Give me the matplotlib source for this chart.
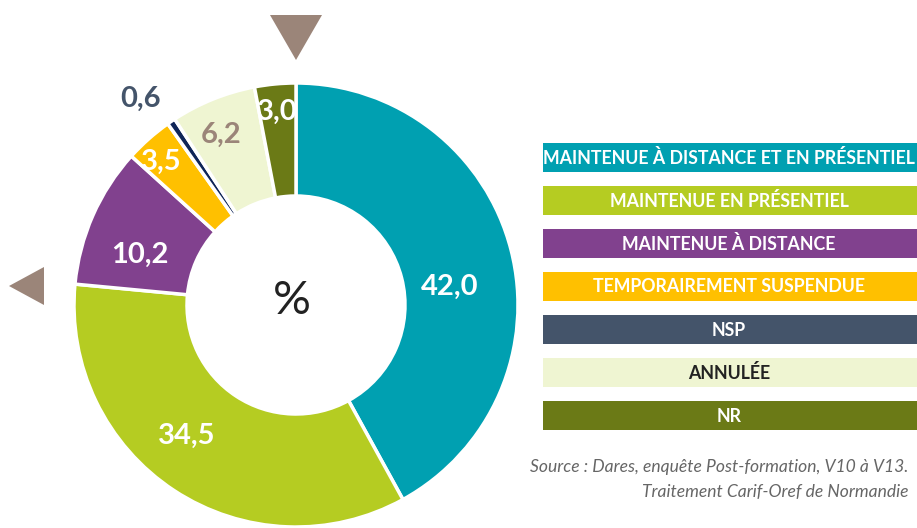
import matplotlib
matplotlib.use("Agg")
import matplotlib.pyplot as plt
from matplotlib.patches import Rectangle, Polygon
import numpy as np

# situation de la formation (%)
categories = [
    "MAINTENUE À DISTANCE ET EN PRÉSENTIEL",
    "MAINTENUE EN PRÉSENTIEL",
    "MAINTENUE À DISTANCE",
    "TEMPORAIREMENT SUSPENDUE",
    "NSP",
    "ANNULÉE",
    "NR",
]
values = [42.0, 34.5, 10.2, 3.5, 0.6, 6.2, 3.0]
value_labels = ["42,0", "34,5", "10,2", "3,5", "0,6", "6,2", "3,0"]

slice_colors = ["#00A0B1", "#B5CC22", "#81418E", "#FFC000", "#0F2557", "#EFF5D2", "#6B7A16"]
legend_colors = ["#00A0B1", "#B5CC22", "#81418E", "#FFC000", "#44546A", "#EFF5D2", "#6B7A16"]
legend_text = ["white", "white", "white", "white", "white", "#222222", "white"]
label_colors = ["white", "white", "white", "white", "#44546A", "#9B8579", "white"]
label_radius = [153, 168, 164, 200, 255, 187, 198]
# fine nudges (px, x right / y down) for each value label
label_nudge = [(5, 20), (-17, -10), (-6, 16), (-2, 6), (-12, 5), (-5, 3), (0, 4)]

plt.rcParams["font.family"] = ["Lato", "DejaVu Sans"]

W, H = 917, 528
fig = plt.figure(figsize=(W / 100, H / 100), dpi=100)
ax = fig.add_axes([0, 0, 1, 1])

cx, cy = 296, H - 305
r_out, r_in = 222, 109

ax.pie(values, colors=slice_colors, startangle=90, counterclock=False,
       center=(cx, cy), radius=r_out, frame=True,
       wedgeprops=dict(width=r_out - r_in, edgecolor="white", linewidth=2.5))
ax.set_xlim(0, W)
ax.set_ylim(0, H)
ax.set_aspect("equal")
ax.axis("off")

# value labels at each slice's mid angle
cum = np.cumsum([0] + values[:-1])
for v, c, lab, col, rad, (nx, ny) in zip(values, cum, value_labels, label_colors,
                                         label_radius, label_nudge):
    theta = np.deg2rad((c + v / 2) / sum(values) * 360)
    x = cx + rad * np.sin(theta) + nx
    y = cy + rad * np.cos(theta) - ny
    ax.text(x, y, lab, ha="center", va="center", fontsize=21,
            fontweight="bold", color=col)

ax.text(cx - 4, cy + 4, "%", ha="center", va="center", fontsize=34, color="#222222")

# direction markers
ax.add_patch(Polygon([[270, H - 15], [322, H - 15], [296, H - 60]],
                     closed=True, color="#9B8579", lw=0))
ax.add_patch(Polygon([[44, H - 267], [44, H - 305], [9, H - 286]],
                     closed=True, color="#9B8579", lw=0))

# legend bars
bar_tops = [143, 186, 229, 272, 315, 358, 401]
for name, col, tcol, top in zip(categories, legend_colors, legend_text, bar_tops):
    ax.add_patch(Rectangle((543, H - top - 29), W - 543, 29, color=col, lw=0))
    ax.text(729, H - top - 15, name, ha="center", va="center", fontsize=12.8,
            fontweight="bold", color=tcol)

ax.text(908, H - 467, "Source : Dares, enquête Post-formation, V10 à V13.",
        ha="right", va="center", fontsize=12.6, style="italic", color="#666666")
ax.text(908, H - 492, "Traitement Carif-Oref de Normandie",
        ha="right", va="center", fontsize=12.6, style="italic", color="#666666")

fig.savefig("out.png", dpi=100)
